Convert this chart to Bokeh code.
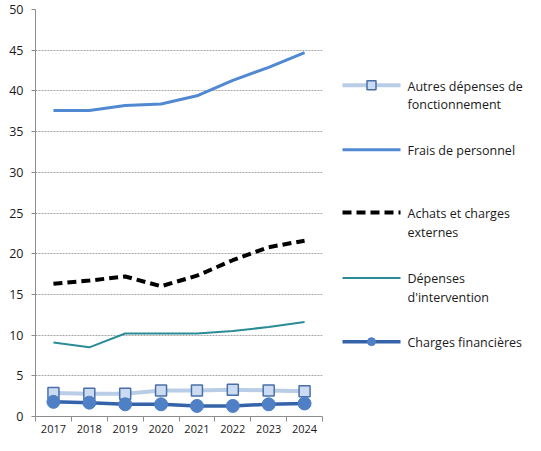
from bokeh.plotting import figure
from bokeh.layouts import row
from bokeh.models import FixedTicker, Range1d
from bokeh.core.properties import value
from bokeh.embed import file_html
from bokeh.resources import INLINE

years = [2017, 2018, 2019, 2020, 2021, 2022, 2023, 2024]
autres = [2.9, 2.8, 2.8, 3.2, 3.2, 3.3, 3.2, 3.1]
frais = [37.6, 37.6, 38.2, 38.4, 39.4, 41.3, 42.9, 44.7]
achats = [16.3, 16.7, 17.2, 16.0, 17.3, 19.2, 20.8, 21.6]
depenses = [9.1, 8.5, 10.2, 10.2, 10.2, 10.5, 11.0, 11.6]
charges = [1.8, 1.7, 1.5, 1.5, 1.3, 1.3, 1.5, 1.6]
y_ticks = [0, 5, 10, 15, 20, 25, 30, 35, 40, 45, 50]
legend_labels = [
    ["Autres dépenses de", "fonctionnement"],
    ["Frais de personnel"],
    ["Achats et charges", "externes"],
    ["Dépenses", "d'intervention"],
    ["Charges financières"],
]

FONT = "Open Sans"
TXT = "#1A1A1A"
C_AUTRES = "#B9CDE6"
C_AUTRES_EDGE = "#4A6FA8"
C_AUTRES_FILL = "#CBDCF2"
C_FRAIS = "#5088D2"
C_ACHATS = "#000000"
C_DEP = "#2B8C98"
C_CHARGES = "#3463AA"
C_CHARGES_FILL = "#4F80C6"

H = 435
p = figure(width=327, height=H, output_backend="svg", toolbar_location=None,
           x_range=Range1d(years[0] - 0.5, years[-1] + 0.5),
           y_range=Range1d(0, 50),
           min_border_left=35, min_border_right=5, min_border_top=9, min_border_bottom=0)
p.outline_line_color = None
p.xgrid.grid_line_color = None
p.ygrid.grid_line_color = "#A6A6A6"
p.ygrid.grid_line_dash = "2 1"
p.ygrid.grid_line_width = 1

p.yaxis.ticker = FixedTicker(ticks=y_ticks)
p.yaxis.axis_line_color = "#8C8C8C"
p.yaxis.major_tick_line_color = "#8C8C8C"
p.yaxis.major_tick_out = 4
p.yaxis.major_tick_in = 0
p.yaxis.minor_tick_line_color = None
p.yaxis.major_label_standoff = 8
p.yaxis.major_label_text_font = FONT
p.yaxis.major_label_text_font_size = "12.5px"
p.yaxis.major_label_text_color = TXT

p.xaxis.ticker = FixedTicker(ticks=years, minor_ticks=[y - 0.5 for y in years] + [years[-1] + 0.5])
p.xaxis.axis_line_color = "#8C8C8C"
p.xaxis.major_tick_line_color = None
p.xaxis.major_tick_out = 0
p.xaxis.major_tick_in = 0
p.xaxis.minor_tick_line_color = "#8C8C8C"
p.xaxis.minor_tick_out = 5
p.xaxis.minor_tick_in = 0
p.xaxis.major_label_standoff = 3
p.xaxis.major_label_text_font = FONT
p.xaxis.major_label_text_font_size = "11px"
p.xaxis.major_label_text_color = TXT

p.line(years, frais, line_color=C_FRAIS, line_width=3)
p.line(years, achats, line_color=C_ACHATS, line_width=4, line_dash="9 5")
p.line(years, depenses, line_color=C_DEP, line_width=2)
p.line(years, autres, line_color=C_AUTRES, line_width=4)
p.scatter(years, autres, marker="square", size=11, fill_color=C_AUTRES_FILL,
          line_color=C_AUTRES_EDGE, line_width=1.5)
p.line(years, charges, line_color=C_CHARGES, line_width=3.5)
p.scatter(years, charges, marker="circle", size=13, fill_color=C_CHARGES_FILL,
          line_color=C_CHARGES_FILL)

# legend panel
q = figure(width=198, height=H, output_backend="svg", toolbar_location=None,
           x_range=Range1d(0, 198), y_range=Range1d(H, 0),
           min_border=0, x_axis_type=None, y_axis_type=None)
q.outline_line_color = None
q.xgrid.grid_line_color = None
q.ygrid.grid_line_color = None

x0, x1, xt = 15, 73, 80
item_y = [81, 150, 217, 287, 355]
line_gap = 20

styles = [
    dict(line_color=C_AUTRES, line_width=4),
    dict(line_color=C_FRAIS, line_width=3),
    dict(line_color=C_ACHATS, line_width=4, line_dash="9 5"),
    dict(line_color=C_DEP, line_width=2),
    dict(line_color=C_CHARGES, line_width=3.5),
]
for yy, st, labels in zip(item_y, styles, legend_labels):
    q.line([x0, x1], [yy, yy], **st)
    q.text([xt] * len(labels), [yy + 1 + i * line_gap for i in range(len(labels))], text=labels,
           text_font=value(FONT), text_font_size="12.5px", text_color=TXT,
           text_baseline="middle", text_align="left")
q.scatter([(x0 + x1) / 2], [item_y[0]], marker="square", size=9, fill_color=C_AUTRES_FILL,
          line_color=C_AUTRES_EDGE, line_width=1.5)
q.scatter([(x0 + x1) / 2], [item_y[4]], marker="circle", size=8, fill_color=C_CHARGES_FILL,
          line_color=C_CHARGES_FILL)

layout = row(p, q)
open("out.html", "w").write(file_html(layout, INLINE))
